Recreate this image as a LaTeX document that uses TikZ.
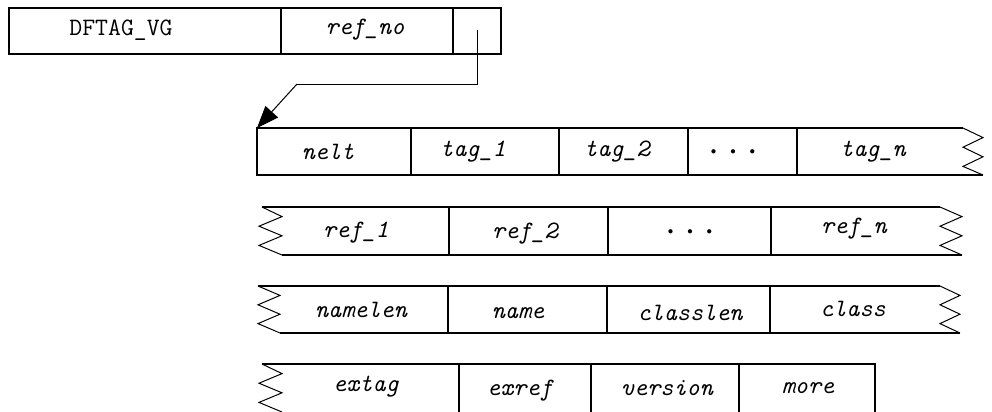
\documentclass[tikz,border=0pt]{standalone}
\usepackage{fontspec}
\usetikzlibrary{arrows.meta}
\tikzset{
  cell/.style={line width=1.8bp},
  zig/.style={line width=1bp, line join=miter},
  lbl/.style={font=\ttfamily\itshape\fontsize{25bp}{29bp}\selectfont, inner sep=0pt, anchor=center},
  lblup/.style={font=\ttfamily\fontsize{25bp}{29bp}\selectfont, inner sep=0pt, anchor=center},
  dotsl/.style={font=\fontsize{11bp}{13bp}\selectfont, inner sep=0pt, anchor=center},
  ptrarrow/.style={line width=1bp, -{Triangle[length=22bp,width=17bp]}}
}
\newcommand{\threedots}{$\bullet$\hspace{14bp}$\bullet$\hspace{14bp}$\bullet$}
\begin{document}
\begin{tikzpicture}[x=1bp,y=-1bp]
\useasboundingbox (0,0) rectangle (992,411);
\clip (0,0) rectangle (992,411);
% top record
\draw[cell] (9,8) rectangle (501,54);
\draw[cell] (281,8) -- (281,54);
\draw[cell] (453,8) -- (453,54);
\node[lblup] (tag) at (121,30) {DFTAG\_VG};
\node[lbl] (refno) at (365,30) {ref\_no};
\coordinate (ptr) at (477,30);
\coordinate (bend) at (297,84);
\coordinate (rowstart) at (257,128);
\draw[line width=1bp] (ptr) |- (bend);
\draw[ptrarrow] (bend) -- (rowstart);
% row 1
\draw[cell] (963,128) -- (257,128) -- (257,175) -- (983,175);
\draw[zig] (963,128) -- (983,137.6) -- (963,147.2) -- (983,156.8) -- (963,166.4) -- (983,175);
\foreach \x in {411,559,688,797} \draw[cell] (\x,128) -- (\x,175);
\node[lbl] (nelt) at (328,152) {nelt};
\node[lbl] (tagone) at (473,152) {tag\_1};
\node[lbl] (tagtwo) at (617,152) {tag\_2};
\node[dotsl] (dotsa) at (733,152) {\threedots};
\node[lbl] (tagn) at (873,152) {tag\_n};
% row 2
\draw[cell] (262,207) -- (940,207);
\draw[cell] (282,255) -- (962,255);
\draw[zig] (262,207) -- (282,216.6) -- (259,226.2) -- (282,235.8) -- (259,245.4) -- (282,255);
\draw[zig] (940,207) -- (962,216.6) -- (940,226.2) -- (962,235.8) -- (940,245.4) -- (962,255);
\foreach \x in {449,608,771} \draw[cell] (\x,207) -- (\x,255);
\node[lbl] (refone) at (356,233) {ref\_1};
\node[lbl] (reftwo) at (525,234) {ref\_2};
\node[dotsl] (dotsb) at (690,232) {\threedots};
\node[lbl] (refn) at (854,229) {ref\_n};
% row 3
\draw[cell] (258,286) -- (940,286);
\draw[cell] (280,333) -- (960,333);
\draw[zig] (258,286) -- (280,295.4) -- (258,304.8) -- (280,314.2) -- (258,323.6) -- (280,333);
\draw[zig] (940,286) -- (960,295.4) -- (940,304.8) -- (960,314.2) -- (940,323.6) -- (960,333);
\foreach \x in {448,607,770} \draw[cell] (\x,286) -- (\x,333);
\node[lbl] (namelen) at (361,310) {namelen};
\node[lbl] (name) at (518,313) {name};
\node[lbl] (classlen) at (690,313) {classlen};
\node[lbl] (class) at (853,309) {class};
% row 4
\draw[cell] (262,364) -- (875,364) -- (875,412);
\draw[zig] (262,364) -- (282,373.6) -- (259,383.2) -- (282,392.8) -- (259,402.4) -- (282,412);
\foreach \x in {459,591,739} \draw[cell] (\x,364) -- (\x,412);
\node[lbl] (extag) at (366,387) {extag};
\node[lbl] (exref) at (520,391) {exref};
\node[lbl] (version) at (667,388) {version};
\node[lbl] (more) at (808,388) {more};
\end{tikzpicture}
\end{document}
